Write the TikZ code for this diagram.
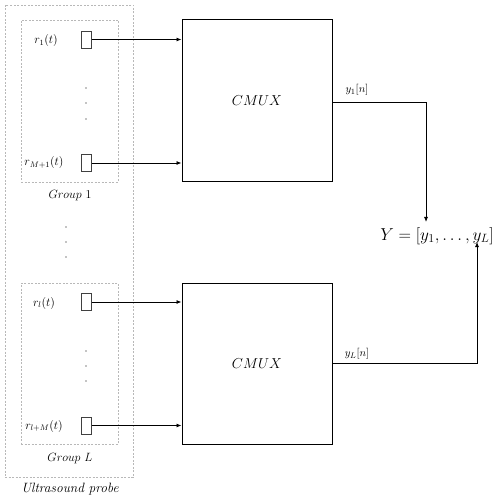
\documentclass[tikz,border=0pt]{standalone}
\usetikzlibrary{arrows.meta}
\begin{document}
\begin{tikzpicture}[x=1pt,y=-1pt,
  dashbox/.style={draw=black!28,dash pattern=on 2pt off 1.5pt,line width=0.8pt},
  elem/.style={draw=black!75,line width=0.9pt,minimum width=10pt,minimum height=17pt,inner sep=0pt},
  cmuxbox/.style={draw=black,line width=1pt,minimum width=150pt,minimum height=162pt,inner sep=0pt,font=\fontsize{15}{18}\selectfont},
  sig/.style={font=\fontsize{12}{14}\selectfont,inner sep=0pt},
  smalllab/.style={font=\fontsize{11}{13}\selectfont,inner sep=0pt},
  caplab/.style={font=\fontsize{12}{14}\selectfont,inner sep=0pt},
  arr/.style={line width=0.8pt,-{Latex[length=5pt,width=4pt]}},
  dotnode/.style={circle,fill=black,inner sep=0pt,minimum size=1.4pt}]
\useasboundingbox (0,0) rectangle (498,502);
% probe and groups
\node[dashbox,minimum width=128pt,minimum height=472pt,inner sep=0pt] (probe) at (69,241) {};
\node[dashbox,minimum width=97pt,minimum height=162pt,inner sep=0pt] (g1) at (69.5,101) {};
\node[dashbox,minimum width=97pt,minimum height=161pt,inner sep=0pt] (gL) at (69.5,363.5) {};
\node[caplab] (g1lab) at (70,196) {$Group\ 1$};
\node[caplab] (gLlab) at (70,459) {$Group\ L$};
\node[caplab,font=\fontsize{13.5}{16}\selectfont\itshape] (problab) at (70,489) {Ultrasound probe};
% elements
\node[elem] (e1) at (86.5,39.5) {};
\node[elem] (e2) at (86.5,163) {};
\node[elem] (e3) at (86.5,302) {};
\node[elem] (e4) at (86.5,425.5) {};
\node[sig] (l1) at (46,41) {$r_1(t)$};
\node[sig] (l2) at (44,163) {$r_{M+1}(t)$};
\node[sig] (l3) at (44,303) {$r_l(t)$};
\node[sig] (l4) at (44,426) {$r_{l+M}(t)$};
% dots
\node[dotnode] (d1) at (86,88) {};
\node[dotnode] (d2) at (86,103) {};
\node[dotnode] (d3) at (86,119) {};
\node[dotnode] (d4) at (66,227) {};
\node[dotnode] (d5) at (66,242) {};
\node[dotnode] (d6) at (66,257) {};
\node[dotnode] (d7) at (86,351) {};
\node[dotnode] (d8) at (86,366) {};
\node[dotnode] (d9) at (86,381) {};
% CMUX
\node[cmuxbox] (c1) at (257,101) {$CMUX$};
\node[cmuxbox,minimum height=161pt] (c2) at (257,363.5) {$CMUX$};
% inputs
\draw[arr] (e1.east) -- (e1.east -| c1.west);
\draw[arr] (e2.east) -- (e2.east -| c1.west);
\draw[arr] (e3.east) -- (e3.east -| c2.west);
\draw[arr] (e4.east) -- (e4.east -| c2.west);
% output
\node[font=\fontsize{18}{20}\selectfont,inner sep=0pt] (Y) at (437,236) {$Y=[y_1,\ldots,y_L]$};
\coordinate (o1) at (332,102);
\coordinate (o2) at (332,363);
\coordinate (t1) at (426,222);
\coordinate (t2) at (477,242);
\draw[arr] (o1) -| (t1);
\draw[arr] (o2) -| (t2);
\node[smalllab] (y1lab) at (357,90) {$y_1[n]$};
\node[smalllab] (yLlab) at (357,354) {$y_L[n]$};
\end{tikzpicture}
\end{document}
